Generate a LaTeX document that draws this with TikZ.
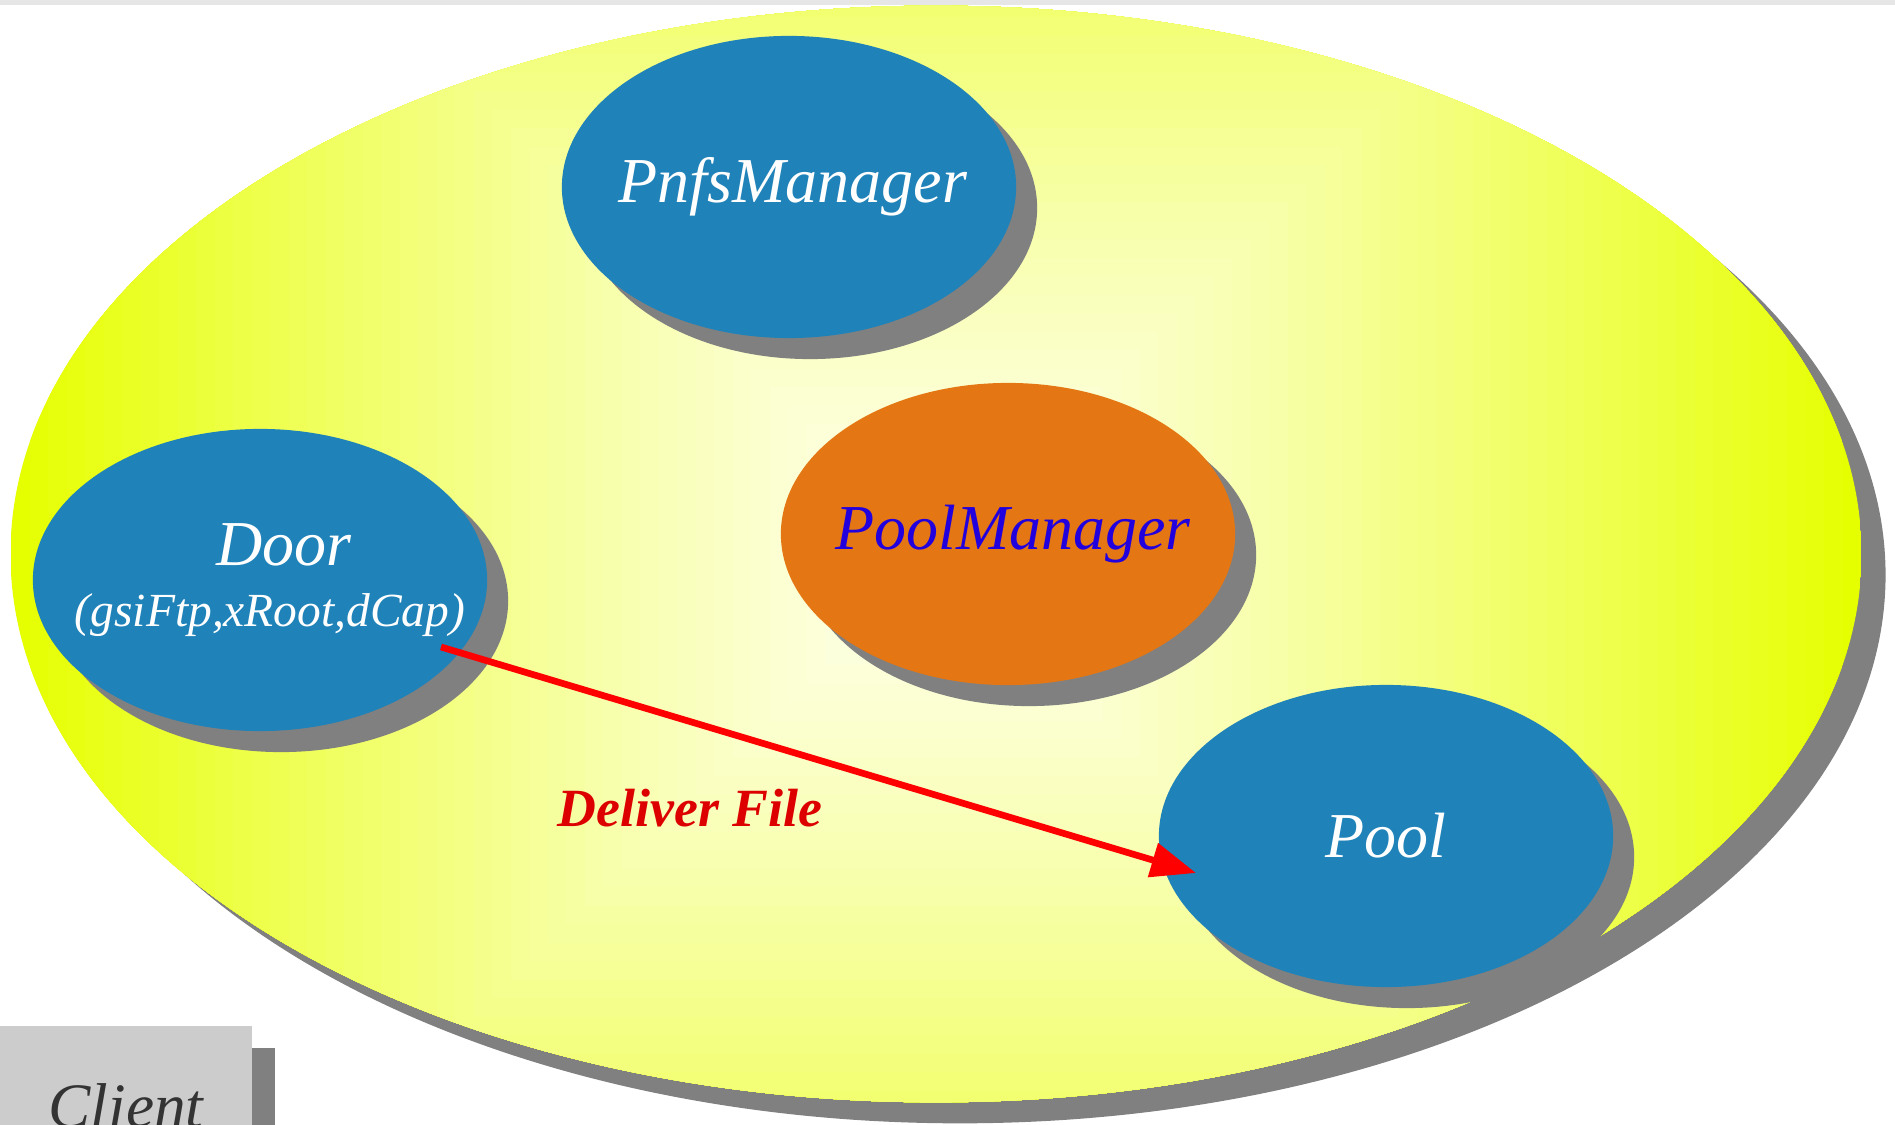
\documentclass[tikz,border=0pt]{standalone}
\usepackage{fontspec}
\setmainfont{Liberation Serif}
\usepackage{tikz}
\usetikzlibrary{shapes.geometric, arrows.meta, shadows, calc}

\definecolor{cellblue}{RGB}{31,130,184}
\definecolor{mgrorange}{RGB}{228,119,20}
\definecolor{mgrblue}{RGB}{34,0,221}
\definecolor{shadowgray}{RGB}{128,128,128}
\definecolor{labelred}{RGB}{221,0,0}
\definecolor{clientgray}{RGB}{204,204,204}
\definecolor{clienttext}{RGB}{51,51,51}
\definecolor{domecore}{RGB}{254,255,234}
\definecolor{domerim}{RGB}{230,255,0}
\definecolor{topgray}{RGB}{230,230,230}

% square rings from the centre, as in the original slide
\tikzstyle{cellregion} = [ellipse, minimum width=18.50cm, minimum height=10.96cm, inner sep=0pt, drop shadow={shadow xshift=0.24cm, shadow yshift=-0.21cm, fill=shadowgray, opacity=1}, path picture={\begin{scope}[shift={(path picture bounding box.center)}]
    \foreach \i in {50,49,...,1} {\pgfmathsetmacro\mix{100*(\i/50)^1.3}
        \fill [domerim!\mix!domecore] (-18.5*\i,-18.5*\i) rectangle (18.5*\i,18.5*\i);}
    \end{scope}}]
\tikzstyle{service} = [ellipse, minimum width=4.54cm, minimum height=3.02cm, inner xsep=-1cm, fill=cellblue, text=white, font=\fontsize{18.2}{22}\selectfont\itshape, drop shadow={shadow xshift=0.21cm, shadow yshift=-0.21cm, fill=shadowgray, opacity=1}]
\tikzstyle{manager} = [service, fill=mgrorange, text=mgrblue]
\tikzstyle{clientbox} = [rectangle, minimum width=2.52cm, minimum height=1.6cm, inner sep=0pt, fill=clientgray, text=clienttext, font=\fontsize{18}{22}\selectfont\itshape, drop shadow={shadow xshift=0.23cm, shadow yshift=-0.22cm, fill=shadowgray, opacity=1}]
\tikzstyle{transfer} = [line width=1.9pt, red, -{Triangle[length=0.45cm, width=0.34cm]}]
\tikzstyle{flowlabel} = [inner sep=0pt, text=labelred, font=\fontsize{15.3}{18}\selectfont\bfseries\itshape]

\begin{document}
\begin{tikzpicture}[x=0.01cm, y=-0.01cm]
        \useasboundingbox (0,0) rectangle (1895,1125);
        \fill [topgray] (0,0) rectangle (1895,5);

        \node (dcache) [cellregion] at (936,554) {};
        \node (pnfs) [service] at (789,187) {\hspace*{0.08cm}PnfsManager};
        \node (poolmgr) [manager] at (1008,534) {\hspace*{0.1cm}PoolManager};
        \node (door) [service, align=center] at (260,580) {\hspace*{0.48cm}Door\\[-4.7pt]\hspace*{0.2cm}{\fontsize{13.5}{16}\selectfont (gsiFtp,xRoot,dCap)}};
        \node (pool) [service] at (1386,836) {Pool};
        \node (client) [clientbox] at (126,1106) {Client};

        \coordinate (doorout) at ($(door)+(181,67)$);
        \coordinate (poolin) at ($(pool)+(-190,37)$);
        \draw [transfer] (doorout) -- node (deliver) [flowlabel, pos=0.33, below=0.64cm] {Deliver File} (poolin);
\end{tikzpicture}
\end{document}
